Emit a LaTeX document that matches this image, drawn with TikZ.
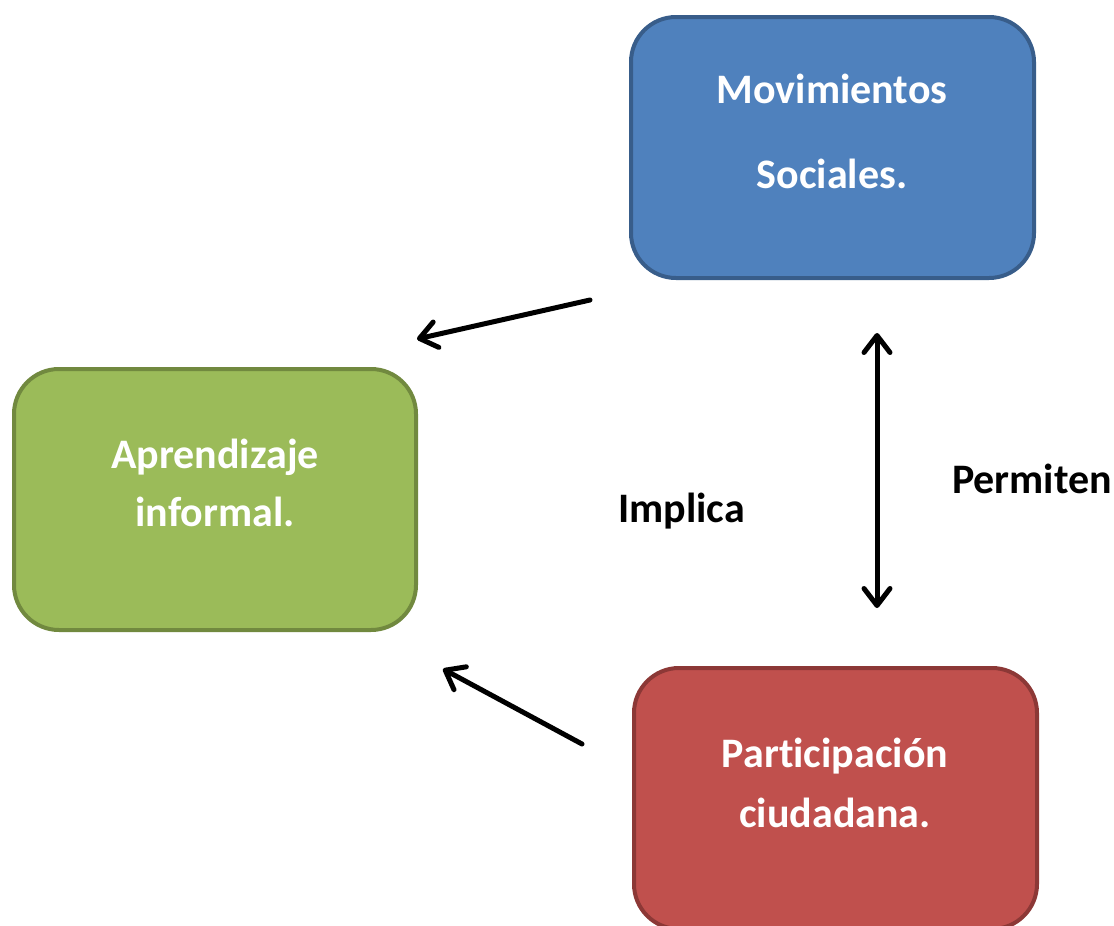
\documentclass[tikz,border=0pt]{standalone}
\usepackage{fontspec}
\setmainfont{Carlito}[Ligatures=NoCommon]
\usetikzlibrary{arrows.meta}

\definecolor{movfill}{HTML}{4F81BD}
\definecolor{movline}{HTML}{385D8A}
\definecolor{aprfill}{HTML}{9BBB59}
\definecolor{aprline}{HTML}{71893F}
\definecolor{parfill}{HTML}{C0504D}
\definecolor{parline}{HTML}{8C3836}

\begin{document}
\begin{tikzpicture}
[ x=1pt, y=-1pt
, box/.style={rectangle, rounded corners=45pt, line width=4pt, minimum width=403pt, minimum height=261pt}
, boxtext/.style={text=white, align=center, font=\fontsize{42}{58}\selectfont\bfseries}
, linktext/.style={anchor=base, font=\fontsize{42}{50}\selectfont\bfseries}
, tip/.tip={Straight Barb[length=17pt, width=26pt, line join=round, line cap=round]}
, link/.style={line width=5pt, line cap=round, -tip}
, twolink/.style={line width=5pt, line cap=round, tip-tip}
]
\useasboundingbox (0,0) rectangle (1114,926);
\clip (0,0) rectangle (1114,926);
% Boxes:
\node (mov) [box, fill=movfill, draw=movline] at (832.5,147.5) {};
\node (apr) [box, fill=aprfill, draw=aprline, minimum width=402pt] at (215,499.5) {};
\node (par) [box, fill=parfill, draw=parline] at (835.5,798.5) {};
% Texts:
\node (movtxt) [boxtext] at (832,131) {Movimientos\\[27pt]Sociales.};
\node (aprtxt) [boxtext] at (215,483) {Aprendizaje\\informal.};
\node (partxt) [boxtext] at (835,783) {Participación\\[2pt]ciudadana.};
\node (implica) [linktext] at (681.5,522) {Implica};
\node (permiten) [linktext] at (1032,493) {Permiten};
% Arrow ends:
\coordinate (m1) at (590,300);
\coordinate (a1) at (417,339);
\coordinate (p1) at (582,744);
\coordinate (a2) at (443,669);
\coordinate (m2) at (877,333);
\coordinate (p2) at (877,608);
\draw [link] (m1) -- (a1);
\draw [link] (p1) -- (a2);
\draw [twolink] (m2) -- (p2);
\end{tikzpicture}
\end{document}
